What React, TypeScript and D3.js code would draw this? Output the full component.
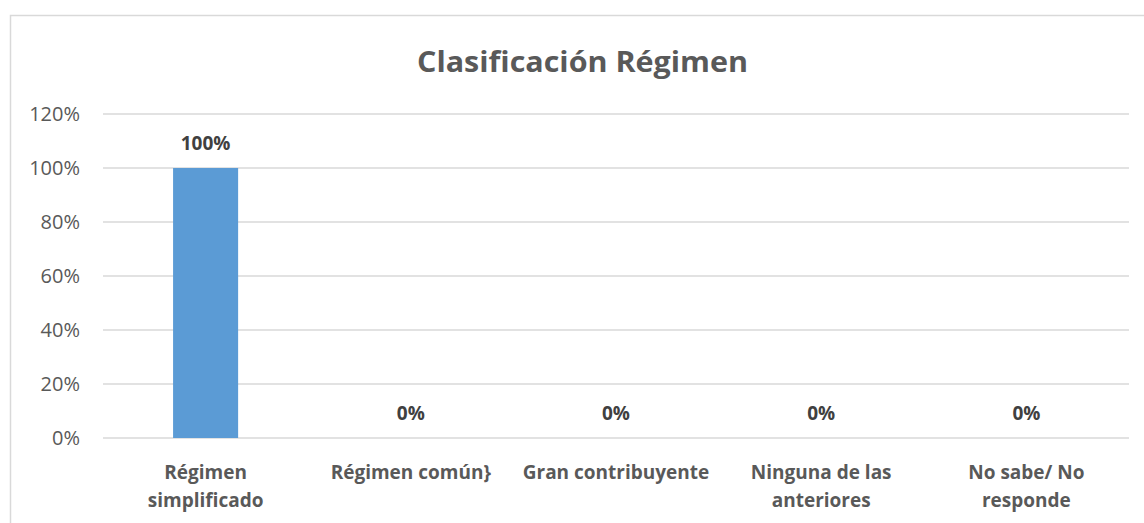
import React from "react";
import * as d3 from "d3";

const categories: string[][] = [
  ["Régimen", "simplificado"],
  ["Régimen común}"],
  ["Gran contribuyente"],
  ["Ninguna de las", "anteriores"],
  ["No sabe/ No", "responde"],
];
const values: number[] = [1.0, 0, 0, 0, 0];
const yTicks: number[] = [0, 0.2, 0.4, 0.6, 0.8, 1.0, 1.2];
const title = "Clasificación Régimen";

const W = 1144;
const H = 523;
const left = 103;
const right = 1129;
const top = 114;
const bottom = 438;
const FONT = "'Open Sans', 'Liberation Sans', sans-serif";

export default function App() {
  const x = d3
    .scaleBand<number>()
    .domain(values.map((_, i) => i))
    .range([left, right])
    .paddingInner(0.683)
    .paddingOuter(0.3415);
  const y = d3.scaleLinear().domain([0, 1.2]).range([bottom, top]);
  const pct = d3.format(".0%");

  return (
    <svg
      width={W}
      height={H}
      style={{ position: "absolute", left: 0, top: 0, background: "#fff" }}
    >
      <rect x={10.5} y={15.5} width={W + 10} height={H + 10} fill="#fff" stroke="#d9d9d9" strokeWidth={1.5} />
      <text
        x={582.5}
        y={72}
        textAnchor="middle"
        fontFamily={FONT}
        fontWeight="bold"
        fontSize={29}
        textLength={331}
        lengthAdjust="spacingAndGlyphs"
        fill="#595959"
      >
        {title}
      </text>
      {yTicks.map((t) => (
        <g key={t}>
          <line x1={left} x2={right} y1={y(t)} y2={y(t)} stroke="#d9d9d9" strokeWidth={1.3} />
          <text
            x={80}
            y={y(t) + 7}
            textAnchor="end"
            fontFamily={FONT}
            fontSize={20}
            fill="#595959"
          >
            {pct(t)}
          </text>
        </g>
      ))}
      {values.map((v, i) => {
        const bx = x(i)!;
        const bw = x.bandwidth();
        const cx = bx + bw / 2;
        return (
          <g key={i}>
            {v > 0 && (
              <rect x={bx} y={y(v)} width={bw} height={bottom - y(v)} fill="#5b9bd5" />
            )}
            <text
              x={cx}
              y={y(v) - 18}
              textAnchor="middle"
              fontFamily={FONT}
              fontWeight="bold"
              fontSize={19}
              fill="#404040"
            >
              {pct(v)}
            </text>
            {categories[i].map((line, j) => (
              <text
                key={j}
                x={cx}
                y={479 + j * 28}
                textAnchor="middle"
                fontFamily={FONT}
                fontWeight="bold"
                fontSize={19}
                fill="#595959"
              >
                {line}
              </text>
            ))}
          </g>
        );
      })}
    </svg>
  );
}
